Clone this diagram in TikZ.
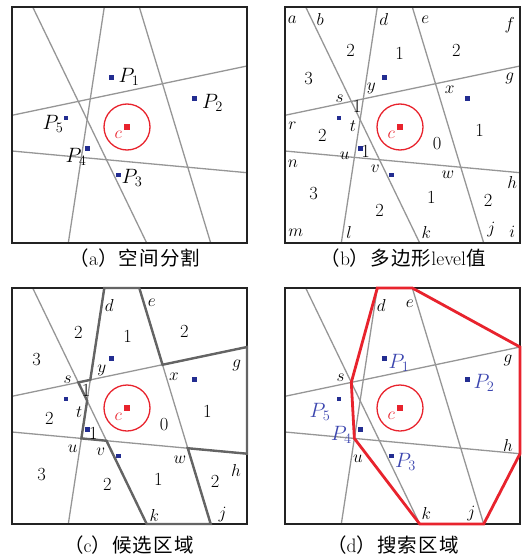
\documentclass[tikz,border=0pt]{standalone}
\usepackage{fontspec}
\newfontfamily\cjk[LetterSpace=6]{Noto Sans CJK SC}
\definecolor{gridgray}{RGB}{150,150,150}
\definecolor{framecol}{RGB}{35,35,35}
\definecolor{ptblue}{RGB}{35,45,145}
\definecolor{lblblue}{RGB}{60,70,175}
\definecolor{cred}{RGB}{232,35,45}
\definecolor{candgray}{RGB}{100,100,100}
\tikzset{
  gridline/.style={gridgray, line width=1.3pt},
  framebox/.style={framecol, line width=1.6pt},
  bluept/.style={rectangle, fill=ptblue, minimum size=4.5pt, inner sep=0pt},
  redpt/.style={rectangle, fill=cred, minimum size=5.5pt, inner sep=0pt},
  lbl/.style={font=\fontsize{18.5}{18.5}\selectfont, inner sep=0pt},
  plbl/.style={font=\fontsize{20}{20}\selectfont, inner sep=0pt},
  clbl/.style={font=\fontsize{18.5}{18.5}\selectfont, inner sep=0pt, text=cred},
  caption/.style={font=\fontsize{19.5}{19.5}\selectfont, inner sep=0pt},
  candpoly/.style={candgray, line width=2.4pt},
  searchpoly/.style={cred, line width=2.8pt},
}
\newcommand{\panelbase}[1]{%
  \coordinate (#1L1a) at (20.7,0);  \coordinate (#1L1b) at (134.7,236);
  \coordinate (#1L2a) at (92.3,0);  \coordinate (#1L2b) at (56.3,236);
  \coordinate (#1L3a) at (127.3,0); \coordinate (#1L3b) at (198.7,236);
  \coordinate (#1L4a) at (0,108.3); \coordinate (#1L4b) at (235,59);
  \coordinate (#1L5a) at (0,144);   \coordinate (#1L5b) at (235,165.7);
  \draw[gridline] (#1L1a) -- (#1L1b);
  \draw[gridline] (#1L2a) -- (#1L2b);
  \draw[gridline] (#1L3a) -- (#1L3b);
  \draw[gridline] (#1L4a) -- (#1L4b);
  \draw[gridline] (#1L5a) -- (#1L5b);
  \coordinate (#1TL) at (0,0); \coordinate (#1BR) at (235,236);
  \draw[framebox] (#1TL) rectangle (#1BR);
  \coordinate (#1s) at (intersection of #1L1a--#1L1b and #1L4a--#1L4b);
  \coordinate (#1y) at (intersection of #1L2a--#1L2b and #1L4a--#1L4b);
  \coordinate (#1x) at (intersection of #1L3a--#1L3b and #1L4a--#1L4b);
  \coordinate (#1t) at (intersection of #1L1a--#1L1b and #1L2a--#1L2b);
  \coordinate (#1u) at (intersection of #1L2a--#1L2b and #1L5a--#1L5b);
  \coordinate (#1v) at (intersection of #1L1a--#1L1b and #1L5a--#1L5b);
  \coordinate (#1w) at (intersection of #1L3a--#1L3b and #1L5a--#1L5b);
  \node[bluept] (#1p1) at (99.3,70.3) {};
  \node[bluept] (#1p2) at (182.3,91.7) {};
  \node[bluept] (#1p3) at (106.3,168) {};
  \node[bluept] (#1p4) at (75.3,141.3) {};
  \node[bluept] (#1p5) at (54,111) {};
  \node[redpt] (#1c) at (115,120) {};
  \draw[cred, line width=1.3pt] (#1c) circle[radius=23pt];
}
\begin{document}
\begin{tikzpicture}[x=1pt,y=-1pt]
\useasboundingbox (0,0) rectangle (527,559);
% ---------- (a)
\begin{scope}[shift={(12,7)}]
  \panelbase{a}
  \node[plbl] (aP1) at (117,70) {$P_1$};
  \node[plbl] (aP2) at (200.5,95.5) {$P_2$};
  \node[plbl] (aP5) at (41,116.5) {$P_5$};
  \node[plbl] (aP4) at (64,150) {$P_4$};
  \node[plbl] (aP3) at (120,170.5) {$P_3$};
  \node[clbl] (acl) at (106.3,128) {$c$};
\end{scope}
% ---------- (b)
\begin{scope}[shift={(285,7)}]
  \panelbase{b}
  \node[lbl] (ba) at (7.3,12.3) {$a$};
  \node[lbl] (bb) at (35.3,12.3) {$b$};
  \node[lbl] (bd) at (98.7,12.3) {$d$};
  \node[lbl] (be) at (140.3,12.3) {$e$};
  \node[lbl] (bf) at (224.7,18) {$f$};
  \node[lbl] (bg) at (224.7,71.3) {$g$};
  \node[lbl] (by) at (86.3,81.3) {$y$};
  \node[lbl] (bx) at (164.7,83) {$x$};
  \node[lbl] (bs) at (54.7,91.3) {$s$};
  \node[lbl] (br) at (7.3,119) {$r$};
  \node[lbl] (bt) at (68,119) {$t$};
  \node[lbl] (bn) at (8,156.3) {$n$};
  \node[lbl] (bu) at (59.7,149) {$u$};
  \node[lbl] (bv) at (90.3,161.3) {$v$};
  \node[lbl] (bw) at (163,168) {$w$};
  \node[lbl] (bh) at (227.3,175.7) {$h$};
  \node[lbl] (bm) at (10.7,225.3) {$m$};
  \node[lbl] (bl) at (64,225.3) {$l$};
  \node[lbl] (bk) at (141.3,225.3) {$k$};
  \node[lbl] (bj) at (206.3,223) {$j$};
  \node[lbl] (bi) at (227.3,225.3) {$i$};
  \node[lbl] (bn1) at (65.7,43.7) {2};
  \node[lbl] (bn2) at (114.7,46.3) {1};
  \node[lbl] (bn3) at (171.3,43) {2};
  \node[lbl] (bn4) at (23.7,71.3) {3};
  \node[lbl] (bn5) at (72,99.7) {1};
  \node[lbl] (bn6) at (37.3,128) {2};
  \node[lbl] (bn7) at (152,136.3) {0};
  \node[lbl] (bn8) at (194.7,123) {1};
  \node[lbl] (bn9) at (80.7,144.7) {1};
  \node[lbl] (bn10) at (28.7,186.3) {3};
  \node[lbl] (bn11) at (146.3,190.3) {1};
  \node[lbl] (bn12) at (203,193) {2};
  \node[lbl] (bn13) at (94.7,203.7) {2};
  \node[clbl] (bcl) at (106.3,128) {$c$};
\end{scope}
% ---------- (c)
\begin{scope}[shift={(12,288)}]
  \panelbase{c}
  \draw[candpoly] (cL2a) -- (cL3a) -- (cx) -- (cL4b) -- (cL5b) -- (cw) -- (cL3b)
    -- (cL1b) -- (cv) -- (cu) -- (ct) -- (cs) -- (cy) -- cycle;
  \node[lbl] (cd) at (97.3,17) {$d$};
  \node[lbl] (ce) at (139.7,14.7) {$e$};
  \node[lbl] (cg) at (224.7,77) {$g$};
  \node[lbl] (cyl) at (89.7,82.7) {$y$};
  \node[lbl] (cxl) at (162,88.7) {$x$};
  \node[lbl] (csl) at (55.7,92) {$s$};
  \node[lbl] (ctl) at (67.3,123.7) {$t$};
  \node[lbl] (cul) at (60.7,160.3) {$u$};
  \node[lbl] (cvl) at (88.7,163.7) {$v$};
  \node[lbl] (cwl) at (168,172) {$w$};
  \node[lbl] (ch) at (224,182) {$h$};
  \node[lbl] (ck) at (142.3,227) {$k$};
  \node[lbl] (cj) at (210.7,227) {$j$};
  \node[lbl] (cn1) at (66.3,44.7) {2};
  \node[lbl] (cn2) at (115.7,48) {1};
  \node[lbl] (cn3) at (172.3,43.7) {2};
  \node[lbl] (cn4) at (24.7,72) {3};
  \node[lbl] (cn5) at (74,102.7) {1};
  \node[lbl] (cn6) at (37.3,130.3) {2};
  \node[lbl] (cn7) at (152,137) {0};
  \node[lbl] (cn8) at (195.3,123.7) {1};
  \node[lbl] (cn9) at (81.3,145.3) {1};
  \node[lbl] (cn10) at (29.7,187) {3};
  \node[lbl] (cn11) at (146.3,191.3) {1};
  \node[lbl] (cn12) at (203,193.7) {2};
  \node[lbl] (cn13) at (95.3,196) {2};
  \node[clbl] (ccl) at (106.3,128.7) {$c$};
\end{scope}
% ---------- (d)
\begin{scope}[shift={(285,288)}]
  \panelbase{d}
  \draw[searchpoly] (dL2a) -- (dL3a) -- (dL4b) -- (dL5b) -- (dL3b) -- (dL1b)
    -- (du) -- (ds) -- cycle;
  \node[lbl] (dd) at (96.3,17) {$d$};
  \node[lbl] (de) at (124.7,15.3) {$e$};
  \node[lbl] (dg) at (223,72) {$g$};
  \node[lbl] (dsl) at (55.7,89.7) {$s$};
  \node[lbl] (dh) at (223,157) {$h$};
  \node[lbl] (dul) at (73,170.3) {$u$};
  \node[lbl] (dk) at (141.3,225.3) {$k$};
  \node[lbl] (dj) at (186.3,225.3) {$j$};
  \node[plbl, text=lblblue] (dP1) at (114,75.3) {$P_1$};
  \node[plbl, text=lblblue] (dP2) at (199,95.3) {$P_2$};
  \node[plbl, text=lblblue] (dP5) at (35,123.7) {$P_5$};
  \node[plbl, text=lblblue] (dP4) at (56.3,147) {$P_4$};
  \node[plbl, text=lblblue] (dP3) at (120.5,173.7) {$P_3$};
  \node[clbl] (dcl) at (106.3,128) {$c$};
\end{scope}
% ---------- captions
\node[caption] (capa) at (135,258) {{\cjk （}a{\cjk ）空间分割}};
\node[caption] (capb) at (403,258) {{\cjk （}b{\cjk ）多边形}level{\cjk 值}};
\node[caption] (capc) at (129,545) {{\cjk （}c{\cjk ）候选区域}};
\node[caption] (capd) at (393,545) {{\cjk （}d{\cjk ）搜索区域}};
\end{tikzpicture}
\end{document}
